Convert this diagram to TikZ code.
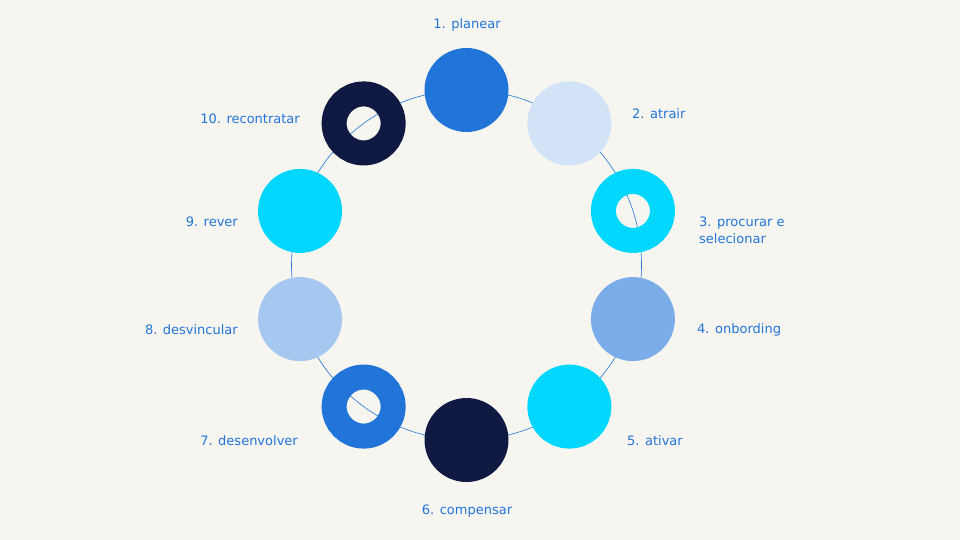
\documentclass[tikz,border=0pt]{standalone}
\usepackage{fontspec}
\setmainfont{DejaVu Sans}
\usetikzlibrary{positioning, calc}
\definecolor{bgc}{HTML}{F6F5F0}
\definecolor{cblue}{HTML}{2175D9}
\definecolor{cpale}{HTML}{D2E3F7}
\definecolor{ccyan}{HTML}{00D7FF}
\definecolor{cmid}{HTML}{7BAEE8}
\definecolor{cnavy}{HTML}{0F1941}
\definecolor{clight}{HTML}{A6C8F0}
\tikzset{
    disc/.style={circle, fill=#1, minimum size=84pt, inner sep=0pt},
    ring/.style={circle, draw=#1, line width=25pt, minimum size=59pt, inner sep=0pt},
    label/.style={font=\fontsize{13}{17}\selectfont, text=cblue, align=left, inner sep=0pt},
    track/.style={draw=cblue, line width=0.6pt}
}
\begin{document}
\begin{tikzpicture}[x=1pt, y=-1pt]
    \fill [bgc] (0,0) rectangle (960,540);
    \useasboundingbox (0,0) rectangle (960,540);
    \coordinate (C) at (466.5,265);
    \draw [track] (C) circle (175pt);

    \node [disc=cblue] (s1) at ($(C)+(-90:175)$) {};
    \node [disc=cpale] (s2) at ($(C)+(-54:175)$) {};
    \node [ring=ccyan] (s3) at ($(C)+(-18:175)$) {};
    \node [disc=cmid] (s4) at ($(C)+(18:175)$) {};
    \node [disc=ccyan] (s5) at ($(C)+(54:175)$) {};
    \node [disc=cnavy] (s6) at ($(C)+(90:175)$) {};
    \node [ring=cblue] (s7) at ($(C)+(126:175)$) {};
    \node [disc=clight] (s8) at ($(C)+(162:175)$) {};
    \node [disc=ccyan] (s9) at ($(C)+(198:175)$) {};
    \node [ring=cnavy] (s10) at ($(C)+(234:175)$) {};

    \node [label, anchor=center] (l1) at (467,25) {1. planear};
    \node [label, anchor=west] (l2) at (632,114) {2. atrair};
    \node [label, anchor=west] (l3) at (699,230) {3. procurar e\\selecionar};
    \node [label, anchor=west] (l4) at (697,330) {4. onbording};
    \node [label, anchor=west] (l5) at (627,441) {5. ativar};
    \node [label, anchor=center] (l6) at (467,511) {6. compensar};
    \node [label, anchor=east] (l7) at (298,441) {7. desenvolver};
    \node [label, anchor=east] (l8) at (238,330) {8. desvincular};
    \node [label, anchor=east] (l9) at (238,222) {9. rever};
    \node [label, anchor=east] (l10) at (300,119) {10. recontratar};
\end{tikzpicture}
\end{document}
